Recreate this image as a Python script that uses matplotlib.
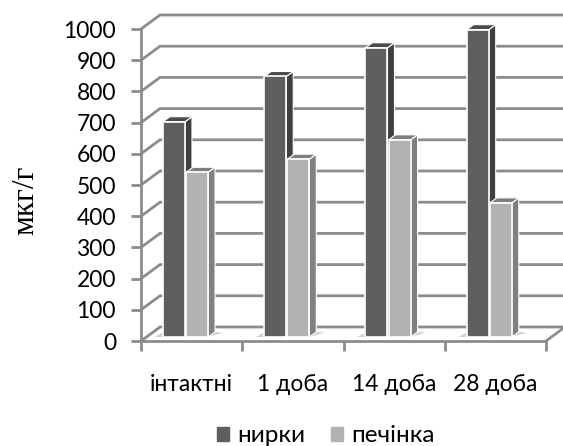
import matplotlib
matplotlib.use("Agg")
import matplotlib.pyplot as plt
from matplotlib.patches import Patch, Polygon

categories = ["інтактні", "1 доба", "14 доба", "28 доба"]
kidney = [690, 835, 927, 985]
liver = [528, 570, 632, 430]
y_ticks = [0, 100, 200, 300, 400, 500, 600, 700, 800, 900, 1000]

W, H = 563, 446
GRID = "#8c8c8c"
plt.rcParams["font.family"] = ["Lato", "DejaVu Sans"]

fig = plt.figure(figsize=(W / 100, H / 100), dpi=100)
ax = fig.add_axes([141 / W, (H - 341) / H, 405 / W, 312 / H])
ax.set_xlim(0, 4)
ax.set_ylim(0, 1000)

# pixel sizes converted to data units
px_x = 4 / 405
px_y = 1000 / 312
wall_dx, wall_dy = 19 * px_x, 14 * px_y
base_dx, base_dy = 0, 4 * px_y
bar_dx, bar_dy = 7 * px_x, 5 * px_y
bar_w = 22 * px_x


def add_poly(points, color, zorder, edge="white", lw=0.8):
    ax.add_patch(Polygon(points, closed=True, facecolor=color, edgecolor=edge,
                         linewidth=lw, clip_on=False, zorder=zorder))


# fake 3d walls
for v in y_ticks:
    ax.plot([0, wall_dx, 4 + wall_dx], [v, v + wall_dy, v + wall_dy], color=GRID,
            lw=2, clip_on=False, zorder=1, solid_joinstyle="miter")
ax.plot([4, 4 + wall_dx], [0, wall_dy], color=GRID, lw=2, clip_on=False, zorder=1)


def draw_bar(left, value, front, side, top, z):
    right = left + bar_w
    b = base_dy
    t = value + base_dy
    # shadow on the floor
    add_poly([(right, b), (right + 2.2 * bar_dx, b + 0.9 * bar_dy),
              (right + bar_dx, b + bar_dy)], "#d0d0d0", 2, edge="none", lw=0)
    add_poly([(left, b), (left - 1.2 * bar_dx, b), (left, b + 0.9 * bar_dy)],
             "#d0d0d0", 2, edge="none", lw=0)
    add_poly([(right, b), (right + bar_dx, b + bar_dy),
              (right + bar_dx, t + bar_dy), (right, t)], side, z)
    add_poly([(left, t), (right, t), (right + bar_dx, t + bar_dy),
              (left + bar_dx, t + bar_dy)], top, z)
    ax.bar(left, value, bar_w, bottom=b, align="edge", color=front, edgecolor="white",
           linewidth=1.2, zorder=z + 0.5, clip_on=False)


for i in range(len(categories)):
    draw_bar(i + 0.217, kidney[i], "#5f5f5f", "#3f3f3f", "#4a4a4a", 3)
    draw_bar(i + 0.445, liver[i], "#b2b2b2", "#808080", "#7f7f7f", 5)

for s in ["top", "right"]:
    ax.spines[s].set_visible(False)
for s in ["left", "bottom"]:
    ax.spines[s].set_color(GRID)
    ax.spines[s].set_linewidth(2)
    ax.spines[s].set_zorder(8)

ax.set_yticks(y_ticks)
ax.tick_params(axis="y", length=7, width=2, color=GRID, labelsize=16.5, pad=11)
ax.set_xticks(range(5))
ax.set_xticklabels([])
ax.tick_params(axis="x", which="major", length=7, width=2, color=GRID)
ax.set_xticks([i + 0.5 for i in range(4)], minor=True)
ax.set_xticklabels(categories, minor=True)
ax.tick_params(axis="x", which="minor", length=0, labelsize=16.5, pad=24)

fig.text(26 / W, 1 - 200 / H, "мкг/г", rotation=90, ha="center", va="center",
         fontsize=22.5, family=["Liberation Serif"])

handles = [Patch(color="#5f5f5f", label="нирки"), Patch(color="#b2b2b2", label="печінка")]
fig.legend(handles=handles, loc="center", bbox_to_anchor=(326 / W, 1 - 436 / H), ncol=2,
           frameon=False, fontsize=17.5, handlelength=0.49, handleheight=0.49,
           handletextpad=0.37, columnspacing=1.03, borderpad=0)

fig.savefig("out.png", dpi=100)
